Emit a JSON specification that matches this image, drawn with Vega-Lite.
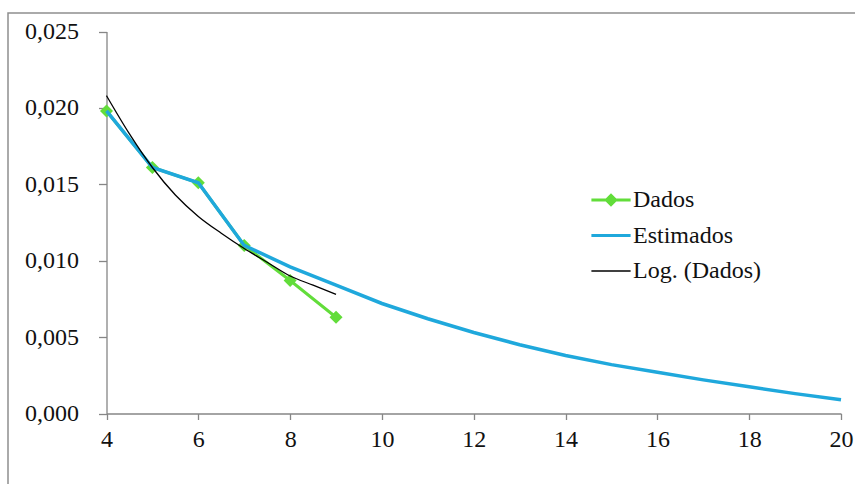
{
  "$schema": "https://vega.github.io/schema/vega-lite/v6.json",
  "width": 850,
  "height": 475,
  "autosize": {"type": "none"},
  "padding": {"left": 8, "top": 13, "right": 0, "bottom": 0},
  "background": "white",
  "config": {
    "view": {"stroke": "#8e8e8e", "strokeWidth": 1.5},
    "axis": {
      "grid": false,
      "title": null,
      "domainColor": "#868686",
      "domainWidth": 1.3,
      "tickColor": "#868686",
      "tickWidth": 1.3,
      "labelFont": "Liberation Serif",
      "labelFontSize": 24,
      "labelColor": "#111111",
      "labelFlush": false,
      "labelOverlap": false
    }
  },
  "datasets": {
    "series": [
      {"serie": "Dados", "x": 4, "y": 0.0198},
      {"serie": "Dados", "x": 5, "y": 0.0161},
      {"serie": "Dados", "x": 6, "y": 0.0151},
      {"serie": "Dados", "x": 7, "y": 0.0110},
      {"serie": "Dados", "x": 8, "y": 0.0087},
      {"serie": "Dados", "x": 9, "y": 0.0063},
      {"serie": "Estimados", "x": 4, "y": 0.0198},
      {"serie": "Estimados", "x": 5, "y": 0.0161},
      {"serie": "Estimados", "x": 6, "y": 0.0151},
      {"serie": "Estimados", "x": 7, "y": 0.0110},
      {"serie": "Estimados", "x": 8, "y": 0.0096},
      {"serie": "Estimados", "x": 9, "y": 0.0084},
      {"serie": "Estimados", "x": 10, "y": 0.0072},
      {"serie": "Estimados", "x": 11, "y": 0.0062},
      {"serie": "Estimados", "x": 12, "y": 0.0053},
      {"serie": "Estimados", "x": 13, "y": 0.0045},
      {"serie": "Estimados", "x": 14, "y": 0.0038},
      {"serie": "Estimados", "x": 15, "y": 0.0032},
      {"serie": "Estimados", "x": 16, "y": 0.0027},
      {"serie": "Estimados", "x": 17, "y": 0.0022},
      {"serie": "Estimados", "x": 18, "y": 0.00175},
      {"serie": "Estimados", "x": 19, "y": 0.0013},
      {"serie": "Estimados", "x": 20, "y": 0.0009},
      {"serie": "Log. (Dados)", "x": 4.0, "y": 0.0208},
      {"serie": "Log. (Dados)", "x": 4.5, "y": 0.0183},
      {"serie": "Log. (Dados)", "x": 5.0, "y": 0.0161},
      {"serie": "Log. (Dados)", "x": 5.5, "y": 0.0143},
      {"serie": "Log. (Dados)", "x": 6.0, "y": 0.0129},
      {"serie": "Log. (Dados)", "x": 6.5, "y": 0.0118},
      {"serie": "Log. (Dados)", "x": 7.0, "y": 0.0108},
      {"serie": "Log. (Dados)", "x": 7.5, "y": 0.0099},
      {"serie": "Log. (Dados)", "x": 8.0, "y": 0.0090},
      {"serie": "Log. (Dados)", "x": 8.5, "y": 0.0084},
      {"serie": "Log. (Dados)", "x": 9.0, "y": 0.0078}
    ]
  },
  "data": {"name": "series"},
  "encoding": {
    "x": {
      "field": "x",
      "type": "quantitative",
      "scale": {"domain": [4, 20], "range": [98.5, 833], "nice": false, "zero": false},
      "axis": {
        "orient": "bottom",
        "offset": -74.5,
        "values": [4, 6, 8, 10, 12, 14, 16, 18, 20],
        "tickSize": 6,
        "labelPadding": 8
      }
    },
    "y": {
      "field": "y",
      "type": "quantitative",
      "scale": {"domain": [0, 0.025], "range": [400.5, 18.5], "nice": false, "zero": false},
      "axis": {
        "orient": "left",
        "offset": -98.5,
        "values": [0, 0.005, 0.01, 0.015, 0.02, 0.025],
        "labelExpr": "replace(format(datum.value, '.3f'), '.', ',')",
        "tickSize": 8,
        "labelPadding": 20
      }
    },
    "color": {
      "field": "serie",
      "type": "nominal",
      "scale": {
        "domain": ["Dados", "Estimados", "Log. (Dados)"],
        "range": ["#62dd3a", "#1fa8dc", "#000000"]
      },
      "legend": {
        "orient": "none",
        "legendX": 591,
        "legendY": 175,
        "title": null,
        "padding": 0,
        "symbolType": "M-1.4,0H1.4",
        "symbolSize": 784,
        "symbolStrokeWidth": 3,
        "labelFont": "Liberation Serif",
        "labelFontSize": 24,
        "labelColor": "#111111",
        "labelOffset": 10,
        "rowPadding": 11.5,
        "encode": {
          "symbols": {
            "update": {
              "shape": {"signal": "datum.value === 'Dados' ? 'M-1.4,0H1.4M-0.33,0L0,-0.33L0.33,0L0,0.33Z' : 'M-1.4,0H1.4'"},
              "stroke": {"scale": "color", "field": "value"},
              "fill": {"signal": "datum.value === 'Dados' ? '#62dd3a' : 'transparent'"},
              "strokeWidth": {"signal": "datum.value === 'Log. (Dados)' ? 1.3 : 3"},
              "opacity": {"value": 1}
            }
          }
        }
      }
    }
  },
  "layer": [
    {
      "transform": [{"filter": "datum.serie === 'Dados'"}],
      "mark": {"type": "line", "strokeWidth": 3}
    },
    {
      "transform": [{"filter": "datum.serie === 'Dados'"}],
      "mark": {"type": "point", "shape": "diamond", "filled": true, "size": 170, "opacity": 1}
    },
    {
      "transform": [{"filter": "datum.serie === 'Estimados'"}],
      "mark": {"type": "line", "strokeWidth": 3.5}
    },
    {
      "transform": [{"filter": "datum.serie === 'Log. (Dados)'"}],
      "mark": {"type": "line", "strokeWidth": 1.3, "interpolate": "monotone"}
    }
  ]
}
